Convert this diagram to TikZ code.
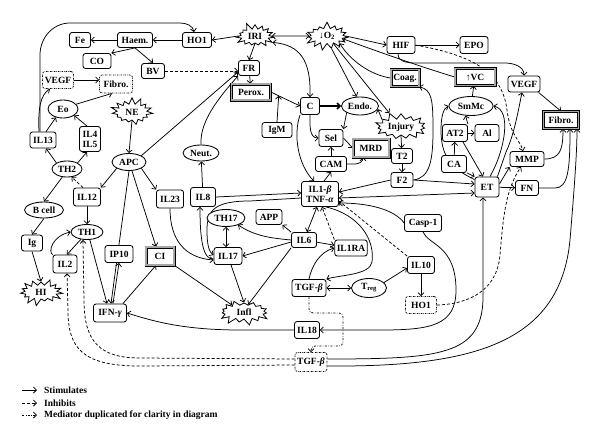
\documentclass[tikz,border=0pt]{standalone}
\usepackage{fontspec}
\setmainfont{Liberation Serif}
\usetikzlibrary{arrows.meta,shapes.geometric,shapes.symbols,calc}
\pgfdeclarelayer{bg}
\pgfsetlayers{bg,main}
\begin{document}
\begin{tikzpicture}[x=1pt,y=-1pt,
  font=\fontsize{9.5}{10}\selectfont\bfseries,
  every node/.style={inner sep=2pt},
  box/.style={draw, rounded corners=2.5pt, line width=0.85pt, fill=white, minimum height=15pt, align=center},
  dbox/.style={draw, double=black!35, double distance=1.9pt, line width=0.55pt, fill=white, minimum height=16pt},
  dotbox/.style={box, line width=0.8pt, dash pattern=on 1.5pt off 1pt on 0.4pt off 1pt},
  ell/.style={draw, ellipse, line width=0.85pt, fill=white, inner sep=0.5pt},
  burst/.style={draw, starburst, starburst points=15, starburst point height=7pt, line width=0.8pt, fill=white, inner sep=0pt, random starburst=#1},
  arr/.style={-{Straight Barb[length=3pt,width=6pt]}, line width=0.75pt},
  barr/.style={{Straight Barb[length=3pt,width=6pt]}-{Straight Barb[length=3pt,width=6pt]}, line width=0.75pt},
  inh/.style={arr, dash pattern=on 3pt off 2pt},
  dup/.style={arr, dash pattern=on 2pt off 1.5pt on 0.5pt off 1.5pt},
]
\useasboundingbox (0,0) rectangle (600,442);

% nodes
\node[box,minimum width=21pt] (Fe) at (80,40) {Fe};
\node[box,minimum width=35pt] (Haem) at (135,40) {Haem.};
\node[box,minimum width=29pt] (HOa) at (197,40) {HO1};
\node[burst=5,minimum width=42pt,minimum height=28pt] (IRI) at (255,36) {IRI};
\node[burst=7,minimum width=46pt,minimum height=29pt] (O2) at (327,36) {↓O\textsubscript{2}};
\node[box,minimum width=28pt,minimum height=17pt] (HIF) at (401,45) {HIF};
\node[box,minimum width=28pt,minimum height=17pt] (EPO) at (474,45) {EPO};
\node[box,minimum width=28pt] (CO) at (97,61) {CO};
\node[box,minimum width=23pt] (BV) at (153,71) {BV};
\node[box,minimum width=21pt] (FR) at (249,68) {FR};
\node[dbox,minimum width=39pt] (Perox) at (251,92) {Perox.};
\node[box,minimum width=19pt,minimum height=17pt] (C) at (310,106) {C};
\node[ell,minimum width=37pt,minimum height=18pt] (Endo) at (360,106) {Endo.};
\node[box,minimum width=30pt] (IgM) at (277,130) {IgM};
\node[box,minimum width=24pt,minimum height=17pt] (Sel) at (331,138) {Sel};
\node[dbox,minimum width=36pt,minimum height=18pt] (MRD) at (371,148) {MRD};
\node[box,minimum width=31pt] (CAM) at (331,164) {CAM};
\node[burst=11,minimum width=56pt,minimum height=30pt] (Injury) at (401,127) {Injury};
\node[box,minimum width=21pt] (T2) at (402,156) {T2};
\node[box,minimum width=22pt] (F2) at (402,180) {F2};
\node[dbox,minimum width=28pt,minimum height=17pt] (Coag) at (405,78) {Coag.};
\node[dbox,minimum width=40pt,minimum height=17pt] (VC) at (475,77) {↑VC};
\node[box,minimum width=32pt,minimum height=16pt] (VEGFr) at (524,84) {VEGF};
\node[ell,minimum width=44pt,minimum height=19pt] (SmMc) at (471,106) {SmMc};
\node[dbox,minimum width=35pt,minimum height=17pt] (Fibr) at (561,120) {Fibro.};
\node[box,minimum width=25pt,minimum height=17pt] (AT2) at (455,133) {AT2};
\node[box,minimum width=24pt,minimum height=17pt] (Al) at (487,133) {Al};
\node[box,minimum width=25pt,minimum height=17pt] (CA) at (454,164) {CA};
\node[box,minimum width=34pt] (MMP) at (527,159) {MMP};
\node[box,minimum width=24pt,minimum height=20pt] (ET) at (487,187) {ET};
\node[box,minimum width=23pt] (FN) at (527,188) {FN};
\node[box,minimum width=37pt,minimum height=17pt] (Casp) at (423,223) {Casp-1};
\node[box,minimum width=27pt,minimum height=17pt] (IL10) at (421,265) {IL10};
\node[dotbox,minimum width=31pt,minimum height=17pt] (HOd) at (421,305) {HO1};
\node[box,minimum width=37pt,minimum height=25pt,inner sep=1pt] (IL1) at (320,194) {IL1-\textit{β}\\TNF-\textit{α}};
\node[box,minimum width=25pt,minimum height=19pt] (IL8) at (203,197) {IL8};
\node[ell,minimum width=36pt,minimum height=16pt] (Neut) at (201,153) {Neut.};
\node[ell,minimum width=38pt,minimum height=17pt] (TH17) at (226,218) {TH17};
\node[box,minimum width=26pt] (APP) at (269,217) {APP};
\node[box,minimum width=25pt] (IL6) at (304,240) {IL6};
\node[box,minimum width=32pt,minimum height=16pt] (IL1RA) at (351,248) {IL1RA};
\node[box,minimum width=28pt,minimum height=17pt] (IL17) at (228,256) {IL17};
\node[box,minimum width=34pt,minimum height=17pt] (TGF) at (309,288) {TGF-\textit{β}};
\node[ell,minimum width=35pt,minimum height=19pt] (Treg) at (369,288) {T\textsubscript{reg}};
\node[burst=13,minimum width=54pt,minimum height=28pt] (Infl) at (244,312) {Infl};
\node[box,minimum width=25pt,minimum height=17pt] (IL18) at (307,330) {IL18};
\node[dotbox,minimum width=32pt,minimum height=19pt] (TGFd) at (311,362) {TGF-\textit{β}};
\node[dotbox,minimum width=31pt,minimum height=17pt] (VEGFl) at (58,80) {VEGF};
\node[dotbox,minimum width=33pt,minimum height=18pt] (Fibl) at (116,84) {Fibro.};
\node[ell,minimum width=30pt,minimum height=18pt] (Eo) at (63,109) {Eo};
\node[burst=17,minimum width=44pt,minimum height=30pt] (NE) at (132,112) {NE};
\node[box,minimum width=26pt,minimum height=16pt] (IL13) at (43,140) {IL13};
\node[box,minimum width=21pt,minimum height=25pt,inner sep=1pt] (IL45) at (90,139) {IL4\\IL5};
\node[ell,minimum width=30pt,minimum height=16pt] (TH2) at (67,169) {TH2};
\node[ell,minimum width=34pt,minimum height=17pt] (APC) at (129,162) {APC};
\node[box,minimum width=27pt,minimum height=18pt] (IL12) at (87,197) {IL12};
\node[box,minimum width=27pt,minimum height=18pt] (IL23) at (170,199) {IL23};
\node[ell,minimum width=39pt,minimum height=16pt] (Bcell) at (44,210) {B cell};
\node[ell,minimum width=32pt,minimum height=15pt] (TH1) at (87,232) {TH1};
\node[box,minimum width=21pt,minimum height=16pt] (Ig) at (32,243) {Ig};
\node[box,minimum width=24pt,minimum height=18pt] (IL2) at (65,264) {IL2};
\node[box,minimum width=28pt,minimum height=17pt] (IP10) at (119,254) {IP10};
\node[dbox,minimum width=28pt,minimum height=18pt] (CI) at (160,256) {CI};
\node[burst=19,minimum width=46pt,minimum height=28pt] (HI) at (41,292) {HI};
\node[box,minimum width=33pt,minimum height=18pt] (IFN) at (110,313) {IFN-\textit{γ}};

\begin{pgfonlayer}{bg}
% top left
\draw[arr] ([xshift=-3pt]IL13.north) -- (40,55) to[out=90,in=180] (70,23) -- (180,23) to[out=0,in=100] ([xshift=-3pt]HOa.north);
\draw[arr] (HOa) -- (Haem);
\draw[arr] (Haem) -- (Fe);
\draw[arr] (Haem.south) -- (CO.north east);
\draw[arr] (Haem.south) -- (BV.north);
\draw[inh] (BV.east) -- (BV.east -| FR.west);
\draw[arr] (IRI.west) -- (HOa.east);
\draw[arr] (IRI.south) -- (FR.north);
\draw[arr] (FR) -- (Perox);
\draw[barr] (IRI.east) -- (O2.west);
\draw[barr] (IRI.-20) .. controls (300,45) and (311,60) .. (C.north);
\draw[arr] (O2.east) -- (HIF.west);
\draw[arr] (HIF) -- (EPO);
\draw[arr] (O2.-70) -- (Endo.110);
\draw[arr] (O2.-50) -- (Injury.130);
\draw[arr] (Coag.west) .. controls (370,75) and (350,60) .. (O2.-30);
\draw[arr] (VC.west) .. controls (425,68) and (390,56) .. (O2.-10);
\draw[arr] ([xshift=-3pt]HIF.south) to[out=-90,in=180] (420,63) -- (505,63) to[out=0,in=90] (VEGFr.north);
\draw[inh] (HIF.east) .. controls (470,55) and (502,70) .. (507,110) .. controls (510,135) and (520,140) .. ([xshift=-4pt]MMP.north);

% C, Endo, Sel area
\draw[arr, line width=1.5pt] (C) -- (Endo);
\draw[arr] (Perox.east) -- (C.west);
\coordinate (pc) at ($(Perox.east)!0.27!(C.west)$);
\draw[arr] (IgM.north) -- (pc);
\draw[arr] (Endo.south west) -- (Sel.north east);
\draw[arr] (C.south) to[out=-90,in=180] (Sel.west);
\draw[arr] (C.south west) .. controls (293,135) and (298,165) .. ([xshift=-6pt]IL1.north);
\draw[arr] (CAM) -- (Sel);
\draw[arr] (Sel.east) -- (MRD.west);
\draw[arr] (CAM.east) -- (355,164) to[out=0,in=-90] ([xshift=-8pt]MRD.south);
\draw[arr] ([xshift=4pt]IL1.north) -- (CAM.south);
\draw[arr] (Injury.160) -- (Endo.-10);
\draw[arr] (Injury.south) -- (T2);
\draw[arr] (T2) -- (F2);
\draw[arr] (F2.east) .. controls (430,178) and (433,160) .. (433,130) .. controls (433,100) and (432,90) .. (Coag.south east);
\draw[arr] (F2.west) -- ([yshift=2pt]IL1.east);
\draw[arr] (F2.east) -- ([yshift=3pt]ET.west);
\draw[barr] ([yshift=-4pt]IL1.east) -- ([yshift=-6pt]ET.west);

% right cluster
\draw[arr] (SmMc) -- (VC);
\draw[arr] (AT2) -- (Al);
\draw[arr] (AT2.north east) -- (SmMc.-120);
\draw[arr] (CA) -- (AT2);
\draw[arr] (CA.south east) -- (ET.north west);
\draw[arr] ([xshift=-5pt]AT2.south east) -- ([xshift=-4pt]ET.north);
\draw[arr] ([yshift=-3pt]ET.north west) .. controls (450,168) and (441,155) .. (441,130) .. controls (441,115) and (444,108) .. (SmMc.west);
\draw[arr] ([xshift=3pt]ET.north) .. controls (505,150) and (512,110) .. (SmMc.east);
\draw[arr] ([xshift=-2pt]ET.north east) -- (506,152) .. controls (514,135) and (518,112) .. ([xshift=-2pt]VEGFr.south);
\draw[arr] ([yshift=3pt]ET.east) -- (MMP.south west);
\draw[arr] (ET) -- (FN);
\draw[arr] (VEGFr.-30) -- (Fibr.north);
\draw[arr] (MMP.east) .. controls (560,159) and (563,150) .. ([xshift=2pt]Fibr.south);
\draw[arr] (FN.east) -- (555,188) .. controls (568,188) and (570,170) .. ([xshift=9pt]Fibr.south);
\draw[arr] ([yshift=-4pt]TGFd.east) .. controls (470,367) and (560,345) .. (570,240) .. controls (575,180) and (577,150) .. ([xshift=16pt]Fibr.south);
\draw[arr] ([yshift=3pt]TGFd.east) .. controls (440,359) and (481,355) .. (483,300) -- ([xshift=-4pt]ET.south);
\draw[arr] (Casp.south) .. controls (428,245) and (456,245) .. (456,290) .. controls (456,326) and (430,330) .. (380,330) -- (IL18.east);
\draw[arr] (IL18.west) -- (240,330) .. controls (180,330) and (150,320) .. (IFN.east);
\draw[inh] (HOd.east) .. controls (470,304) and (497,290) .. (500,255) .. controls (503,220) and (505,190) .. ([xshift=-6pt]MMP.south);
\draw[arr] (IL10) -- (HOd);
\draw[barr] (TGF) -- (Treg);
\draw[arr] (Treg.20) -- ([yshift=-3pt]IL10.west);
\draw[inh] (IL10.north west) -- ([yshift=-7pt]IL1.east);
\draw[arr] (Casp.west) .. controls (395,210) and (370,203) .. ([yshift=-9pt]IL1.east);
\draw[arr] ([xshift=6pt]IL1.south) .. controls (360,215) and (375,240) .. (372,262) .. controls (370,275) and (340,275) .. (TGF.north east);

% center
\draw[barr] ([xshift=-3pt]IL1.south) -- ([xshift=3pt]IL6.north);
\draw[inh] (IL1RA.north west) -- ([xshift=2pt]IL1.south);
\draw[arr] (IL6) -- (IL1RA);
\draw[arr] (IL6.north west) -- (APP.south east);
\draw[arr] (IL6.west) .. controls (270,238) and (255,236) .. (TH17.-30);
\draw[arr] ([yshift=-2pt]IL6.west) -- (IL17.east);
\draw[arr] (IL6.south west) -- (Infl.60);
\draw[arr] ([xshift=3pt]IL17.south) -- (Infl.north);
\draw[arr] (CI.south east) -- (Infl.150);
\draw[barr] (TH17.south) -- (TH17.south |- IL17.north);
\draw[arr] ([yshift=-3pt]IL17.west) .. controls (203,260) and (200,240) .. ([xshift=-3pt]IL8.south);
\draw[arr] ([yshift=-4pt]IL1.west) -- (250,201) .. controls (215,201) and (207,210) .. (207,230) .. controls (207,245) and (209,252) .. ([yshift=1pt]IL17.west);
\draw[arr] (IL23.south) .. controls (170,240) and (185,258) .. ([yshift=-4pt]IL17.west);
\draw[arr] (IL8.east) -- ([yshift=1pt]IL1.west);
\draw[arr] (IL8) -- (Neut);
\draw[arr] (Neut.north) .. controls (200,125) and (212,105) .. (FR.south west);
\draw[arr] (APC.north east) -- ([yshift=-4pt]FR.west);
\draw[arr] (NE.south) -- (APC.north);
\draw[arr] (APC.south west) -- (IL12.north east);
\draw[arr] (APC.south east) -- (IL23.north west);
\draw[arr] ([xshift=3pt]APC.south) -- ([xshift=-4pt]CI.north);
\draw[arr] (APC.south) -- ([xshift=1pt]IFN.north);
\draw[arr] ([xshift=3pt]IFN.north) -- (IP10.south);
\draw[arr] ([xshift=-4pt]IFN.north east) -- ([xshift=-4pt]CI.south);
\draw[arr] (TH1.-70) -- ([xshift=-3pt]IFN.north);
\draw[arr] (IL12) -- (TH1);
\draw[inh] ([xshift=-4pt]IL12.north) -- (TH2.-60);
\draw[arr] (TH2.150) -- ([xshift=3pt]IL13.south);
\draw[arr] (TH2.30) -- ([xshift=-3pt]IL45.south);
\draw[arr] (TH2.-120) -- (Bcell.north);
\draw[arr] (Bcell.south) -- (Ig.north);
\draw[arr] (Ig.south) -- (HI.north);
\draw[arr] (TH1.-130) -- ([xshift=2pt]IL2.north);
\draw[arr] (IL2.north west) .. controls (48,252) and (52,236) .. (TH1.west);
\draw[arr] ([xshift=3pt]IL13.north) -- (Eo.-130);
\draw[arr] ([xshift=-4pt]IL13.north) .. controls (38,110) and (40,95) .. ([xshift=-8pt]VEGFl.south);
\draw[arr] ([xshift=-3pt]IL45.north) -- (Eo.-30);
\draw[arr] (Eo.20) -- ([xshift=-4pt]Fibl.south);
\draw[arr] (VEGFl.east) -- (VEGFl.east -| Fibl.west);

% bottom
\draw[dup, rounded corners=4pt] (TGF.south) -- (309,313) -- (343,313) -- (343,346) -- (311,346) -- (TGFd.north);
\draw[inh] ([yshift=3pt]TGFd.west) -- (140,358) .. controls (100,358) and (84,342) .. (84,300) -- ([xshift=-4pt]TH1.south);
\draw[inh] ([yshift=-3pt]TGFd.west) -- (140,366) .. controls (82,366) and (68,348) .. (68,310) -- ([xshift=2pt]IL2.south);
\draw[arr] (TGF.north) .. controls (312,265) and (320,252) .. (IL1RA.west);
\end{pgfonlayer}

% legend
\coordinate (l1a) at (22,390); \coordinate (l1b) at (37,390);
\coordinate (l2a) at (22,403); \coordinate (l2b) at (37,403);
\coordinate (l3a) at (22,415); \coordinate (l3b) at (37,415);
\draw[arr] (l1a) -- (l1b);
\draw[inh] (l2a) -- (l2b);
\draw[dup] (l3a) -- (l3b);
\node[anchor=west,inner sep=0pt] (lg1) at (44,390) {Stimulates};
\node[anchor=west,inner sep=0pt] (lg2) at (44,403) {Inhibits};
\node[anchor=west,inner sep=0pt] (lg3) at (44,415) {Mediator duplicated for clarity in diagram};
\end{tikzpicture}
\end{document}
